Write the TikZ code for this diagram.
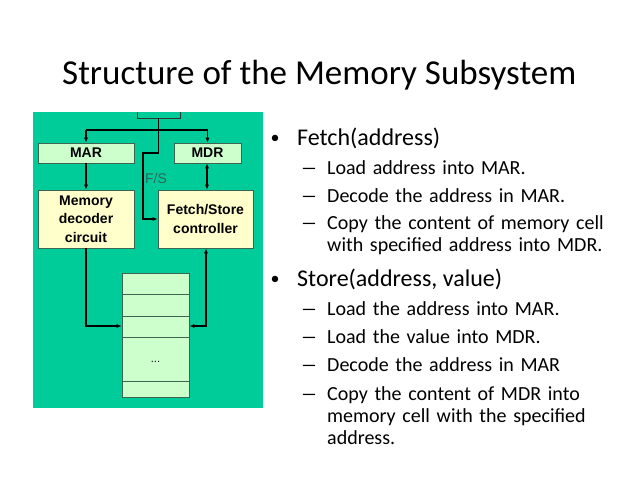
\documentclass[tikz,border=0pt]{standalone}
\usepackage{fontspec}
\setmainfont{Carlito}
\newfontfamily\arialf{Liberation Sans}
\usetikzlibrary{arrows.meta}
\definecolor{panelgreen}{RGB}{0,204,153}
\definecolor{lightgreen}{RGB}{204,255,204}
\definecolor{lightyellow}{RGB}{255,255,204}
\definecolor{fscol}{RGB}{45,100,90}
\definecolor{boxline}{RGB}{60,100,80}
\begin{document}
\begin{tikzpicture}[x=1pt,y=-1pt,
  box/.style={draw=boxline, line width=0.6pt, inner sep=0pt, align=center,
    font=\arialf\bfseries\fontsize{14}{18.5}\selectfont},
  greenbox/.style={box, fill=lightgreen, minimum height=20pt},
  yellowbox/.style={box, fill=lightyellow, minimum height=58pt},
  wire/.style={line width=1.1pt, black},
  arr/.style={wire, -{Latex[length=5pt,width=4pt]}},
  darr/.style={wire, {Latex[length=5pt,width=4pt]}-{Latex[length=5pt,width=4pt]}},
  titlefont/.style={font=\fontsize{35}{42}\selectfont, inner sep=0pt},
  bul/.style={font=\fontsize{24}{29}\selectfont, inner sep=0pt},
  bulmark/.style={font=\fontsize{18}{20}\selectfont, inner sep=0pt},
  dashmark/.style={font=\fontsize{20}{22}\selectfont, inner sep=0pt},
  sub/.style={font=\fontsize{20}{22}\selectfont, inner sep=0pt, align=left, text width=320pt}
]
\useasboundingbox (0,0) rectangle (638,479);
% title
\node[titlefont, anchor=base west] (title) at (62,84) {Structure of the Memory Subsystem};

% panel
\fill[panelgreen] (33,112) rectangle (263,408);
% top box (clipped by panel top)
\draw[line width=0.7pt, black!80] (137,112) -- (137,118) -- (180,118) -- (180,112);
\coordinate (topbox) at (158.5,118);

% boxes
\node[greenbox, minimum width=96pt] (mar) at (86,153) {MAR};
\node[greenbox, minimum width=67pt] (mdr) at (207.5,153) {MDR};
\node[yellowbox, minimum width=96pt] (dec) at (86,219) {Memory\\decoder\\circuit};
\node[yellowbox, minimum width=95pt] (fs) at (205.5,219) {Fetch/Store\\controller};
\node[draw=boxline, line width=0.6pt, fill=lightgreen, minimum width=67pt, minimum height=124pt, inner sep=0pt] (mem) at (155.5,335) {};
\foreach \yy in {294,316,337,381}
  \draw[boxline, line width=0.7pt] (mem.west |- 0,\yy) -- (mem.east |- 0,\yy);
\node[font=\arialf\fontsize{11}{12}\selectfont, inner sep=0pt] (dots) at (155.5,362) {...};

% F/S label
\node[font=\arialf\fontsize{14}{16}\selectfont, text=fscol, inner sep=0pt] (fslabel) at (156,178) {F/S};

% connectors
\coordinate (bus) at (158.5,130);
\coordinate (busL) at (86,130);
\coordinate (busR) at (207.5,130);
\draw[wire] (topbox) -- (bus);
\draw[wire] (busL) -- (busR);
\draw[arr] (busL) -- (mar.north);
\draw[arr] (busR) -- (mdr.north);
\coordinate (fsa) at (158.5,153);
\coordinate (fsb) at (143,153);
\coordinate (fsc) at (143,219);
\draw[arr] (bus) -- (fsa) -- (fsb) -- (fsc) -- (fs.west);
\draw[arr] (mar.south) -- (dec.north);
\draw[darr] (mdr.south -| 207,0) -- (fs.north -| 207,0);
\coordinate (decb) at (86,326);
\draw[arr] (dec.south) -- (decb) -- (mem.west |- decb);
\coordinate (fsb2) at (206,326);
\draw[darr] (mem.east |- fsb2) -- (fsb2) -- (fs.south -| fsb2);

% text
\newcommand{\subdash}{\scalebox{1.7}[1]{–}}
\node[bulmark] (b1) at (275,139) {•};
\node[bul, anchor=base west] (t1) at (297,145) {Fetch(address)};
\node[dashmark, anchor=base] (d11) at (309,174) {\subdash};
\node[sub, anchor=base west] (t11) at (327,174) {Load address into MAR.};
\node[dashmark, anchor=base] (d12) at (309,202) {\subdash};
\node[sub, anchor=base west] (t12) at (327,202) {Decode the address in MAR.};
\node[dashmark, anchor=base] (d13) at (309,229) {\subdash};
\node[sub, anchor=base west] (t13) at (327,229) {Copy the content of memory cell\\with specified address into MDR.};

\node[bulmark] (b2) at (275,280) {•};
\node[bul, anchor=base west] (t2) at (297,286) {Store(address, value)};
\node[dashmark, anchor=base] (d21) at (309,315) {\subdash};
\node[sub, anchor=base west] (t21) at (327,315) {Load the address into MAR.};
\node[dashmark, anchor=base] (d22) at (309,343) {\subdash};
\node[sub, anchor=base west] (t22) at (327,343) {Load the value into MDR.};
\node[dashmark, anchor=base] (d23) at (309,371) {\subdash};
\node[sub, anchor=base west] (t23) at (327,371) {Decode the address in MAR};
\node[dashmark, anchor=base] (d24) at (309,400) {\subdash};
\node[sub, anchor=base west] (t24) at (327,400) {Copy the content of MDR into\\memory cell with the specified\\address.};
\end{tikzpicture}
\end{document}
